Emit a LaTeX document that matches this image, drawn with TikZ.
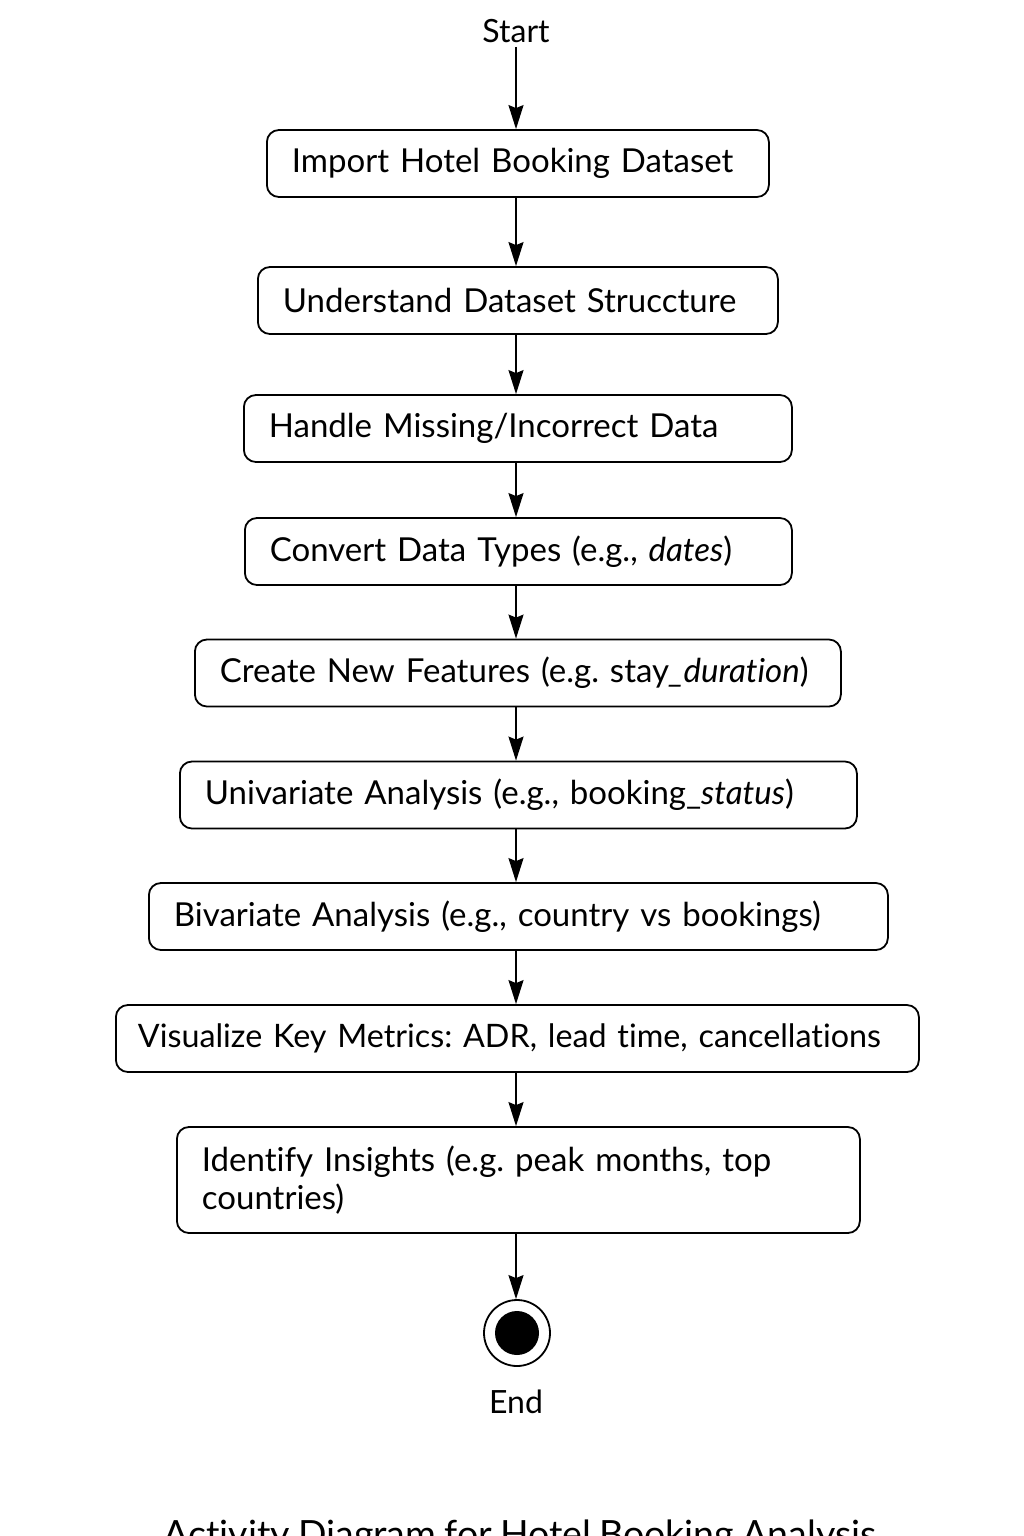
\documentclass[tikz,border=0pt]{standalone}
\usepackage{fontspec}
\setmainfont{Lato}[Ligatures=CommonOff, WordSpace=0.85]
\usetikzlibrary{arrows.meta}
\frenchspacing
\hyphenpenalty=10000
\begin{document}
\begin{tikzpicture}[x=1pt,y=-1pt,
  act/.style={draw=black, line width=1.8pt, rounded corners=12pt, minimum height=67pt,
    inner xsep=25pt, inner ysep=0pt, align=left, font=\fontsize{33}{38}\selectfont, anchor=west},
  lbl/.style={font=\fontsize{32}{36}\selectfont, inner sep=0pt},
  flow/.style={line width=1.8pt, -{Stealth[length=24pt,width=15pt,inset=3pt]}}
]
\useasboundingbox[fill=white] (0,0) rectangle (1024,1536);
\node[lbl] (start) at (516,31) {Start};
\node[act, text width=452pt] (a1) at (266,163.5) {Import Hotel Booking Dataset};
\node[act, text width=470pt] (a2) at (257,300.5) {Understand Dataset Struccture};
\node[act, text width=498pt] (a3) at (243,428.5) {Handle Missing/Incorrect Data};
\node[act, text width=497pt] (a4) at (244,551.5) {Convert Data Types (e.g., \textit{dates})};
\node[act, text width=596pt] (a5) at (194,673) {Create New Features (e.g. stay\textit{\_duration})};
\node[act, text width=627pt] (a6) at (179,795) {Univariate Analysis (e.g., booking\_\textit{status})};
\node[act, text width=689pt] (a7) at (148,916.5) {Bivariate Analysis (e.g., country vs bookings)};
\node[act, inner xsep=22pt, text width=759pt, font=\fontsize{32.3}{38}\selectfont] (a8) at (115,1038.5) {\mbox{Visualize Key Metrics: ADR, lead time, cancellations}};
\node[act, text width=633pt, minimum height=106pt] (a9) at (176,1180) {Identify Insights (e.g. peak months, top\\countries)};
\node[draw=black, line width=1.8pt, circle, minimum size=66pt, inner sep=0pt] (endo) at (517,1333) {};
\node[fill=black, circle, minimum size=44pt, inner sep=0pt] (endi) at (endo.center) {};
\node[lbl] (endl) at (516,1402) {End};
\node[font=\fontsize{37.5}{40}\selectfont, inner sep=0pt, anchor=base] (title) at (520,1547) {Activity Diagram for Hotel Booking Analysis};
\draw[flow] (start.south) ++(0,4) coordinate (s0) -- (a1.north -| s0);
\draw[flow] (a1.south -| s0) -- (a2.north -| s0);
\draw[flow] (a2.south -| s0) -- (a3.north -| s0);
\draw[flow] (a3.south -| s0) -- (a4.north -| s0);
\draw[flow] (a4.south -| s0) -- (a5.north -| s0);
\draw[flow] (a5.south -| s0) -- (a6.north -| s0);
\draw[flow] (a6.south -| s0) -- (a7.north -| s0);
\draw[flow] (a7.south -| s0) -- (a8.north -| s0);
\draw[flow] (a8.south -| s0) -- (a9.north -| s0);
\draw[flow] (a9.south -| s0) -- (endo.north -| s0);
\end{tikzpicture}
\end{document}
